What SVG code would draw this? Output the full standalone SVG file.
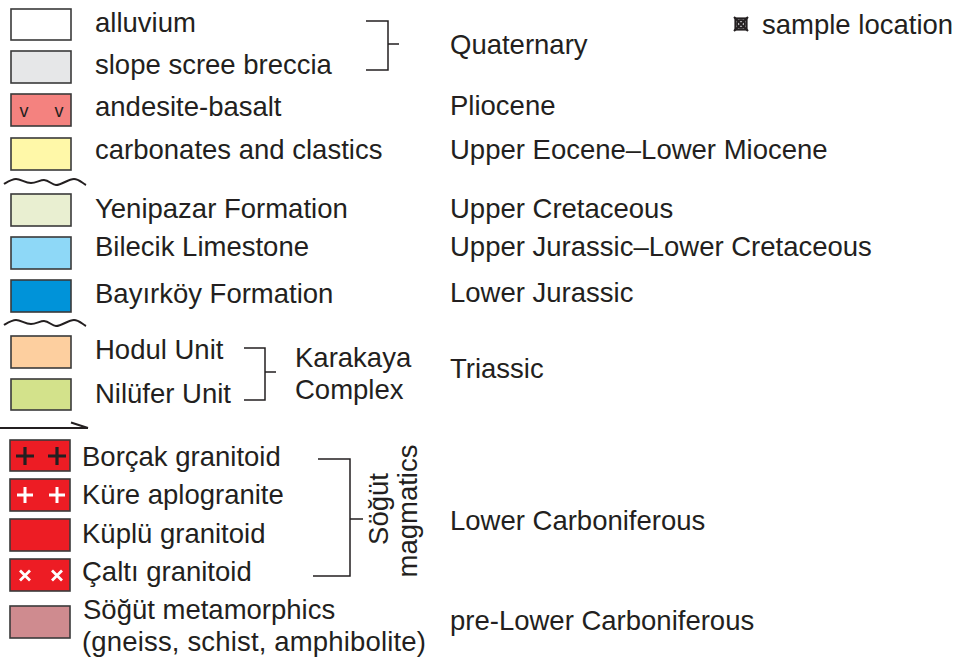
<svg xmlns="http://www.w3.org/2000/svg" width="962" height="657" viewBox="0 0 962 657">
<style>
text{font-family:"Liberation Sans",Arial,sans-serif;font-size:27.5px;fill:#231f20}
.sw{stroke:#3a3a3a;stroke-width:1.6}
.ln{fill:none;stroke:#231f20;stroke-width:1.5}
.wv{fill:none;stroke:#231f20;stroke-width:2}
</style>
<rect width="962" height="657" fill="#fff"/>
<g id="alluvium"><rect class="sw" x="11" y="9" width="60" height="31" fill="#ffffff"/><text x="95" y="32">alluvium</text></g>
<g id="slope-scree"><rect class="sw" x="11" y="51" width="60" height="32" fill="#e6e7e8"/><text x="95" y="74">slope scree breccia</text></g>
<g id="andesite"><rect class="sw" x="11" y="94" width="60" height="32" fill="#f4827f"/><text x="24" y="117" style="font-size:18px" text-anchor="middle">v</text><text x="59" y="117" style="font-size:18px" text-anchor="middle">v</text><text x="95" y="116">andesite-basalt</text></g>
<g id="carbonates"><rect class="sw" x="11" y="138" width="60" height="32" fill="#fff8a8"/><text x="95" y="159">carbonates and clastics</text></g>
<g id="yenipazar"><rect class="sw" x="11" y="194" width="60" height="32" fill="#e9efd1"/><text x="95" y="218">Yenipazar Formation</text></g>
<g id="bilecik"><rect class="sw" x="11" y="237" width="60" height="32" fill="#8ed8f7"/><text x="95" y="256">Bilecik Limestone</text></g>
<g id="bayirkoy"><rect class="sw" x="11" y="280" width="60" height="32" fill="#0093d9"/><text x="95" y="303">Bayırköy Formation</text></g>
<g id="hodul"><rect class="sw" x="11" y="336" width="60" height="32" fill="#fdcf9f"/><text x="95" y="359">Hodul Unit</text></g>
<g id="nilufer"><rect class="sw" x="11" y="379" width="60" height="31" fill="#d3e28b"/><text x="95" y="403">Nilüfer Unit</text></g>
<g id="karakaya"><text x="295" y="367">Karakaya</text><text x="295" y="399">Complex</text></g>
<g id="borcak"><rect class="sw" x="10" y="440" width="60" height="31" fill="#ed1c24"/><path d="M16,456h18M25,447v18M48,456h18M57,447v18" stroke="#231f20" stroke-width="3.2"/><text x="82" y="466">Borçak granitoid</text></g>
<g id="kure"><rect class="sw" x="10" y="479" width="60" height="32" fill="#ed1c24"/><path d="M17,495h16M25,487v16M49,495h16M57,487v16" stroke="#fff" stroke-width="3"/><text x="82" y="504">Küre aplogranite</text></g>
<g id="kuplu"><rect class="sw" x="10" y="519" width="60" height="32" fill="#ed1c24"/><text x="82" y="543">Küplü granitoid</text></g>
<g id="calti"><rect class="sw" x="10" y="559" width="60" height="32" fill="#ed1c24"/><path d="M20,570.5l10,10M30,570.5l-10,10M52,570.5l10,10M62,570.5l-10,10" stroke="#fff" stroke-width="2.8"/><text x="82" y="581">Çaltı granitoid</text></g>
<g id="sogut-magmatics"><text transform="translate(388,509) rotate(-90)" text-anchor="middle">Söğüt</text><text transform="translate(417,511) rotate(-90)" text-anchor="middle">magmatics</text></g>
<g id="sogut-metamorphics"><rect class="sw" x="10" y="606" width="60" height="32" fill="#cf8b8f"/><text x="83" y="619">Söğüt metamorphics</text><text x="82" y="651" textLength="344">(gneiss, schist, amphibolite)</text></g>
<g id="ages">
<text x="450" y="54">Quaternary</text>
<text x="450" y="115">Pliocene</text>
<text x="450" y="159">Upper Eocene–Lower Miocene</text>
<text x="450" y="218">Upper Cretaceous</text>
<text x="450" y="256">Upper Jurassic–Lower Cretaceous</text>
<text x="450" y="302">Lower Jurassic</text>
<text x="450" y="378">Triassic</text>
<text x="450" y="530">Lower Carboniferous</text>
<text x="450" y="630">pre-Lower Carboniferous</text>
</g>
<g id="sample-location"><rect x="735.5" y="18.5" width="11" height="11" fill="none" stroke="#231f20" stroke-width="2.2"/><circle cx="741" cy="24" r="3.8" fill="none" stroke="#231f20" stroke-width="2"/><path d="M734,17l14,14M748,17l-14,14" stroke="#231f20" stroke-width="2"/><text x="762" y="34">sample location</text></g>
<g id="connectors">
<path class="ln" d="M366,21H388V70H366M388,44H399"/>
<path class="ln" d="M244,348H265V400H244M265,372H276"/>
<path class="ln" d="M318,459H350V576H313M350,519H363"/>
<path class="wv" d="M4,184C9,181 12,179 16,179C21,179 25,183 31,183C36,183 40,180 44,180C49,180 52,185 56,185C62,185 68,179 74,179C79,179 82,183 86,185"/>
<path class="wv" d="M4,325C9,322 12,320 16,320C21,320 25,324 31,324C36,324 40,321 44,321C49,321 52,326 56,326C62,326 68,320 74,320C79,320 82,324 86,326"/>
<path class="wv" d="M0,428H88M71,422.5L88,428"/>
</g>
</svg>
